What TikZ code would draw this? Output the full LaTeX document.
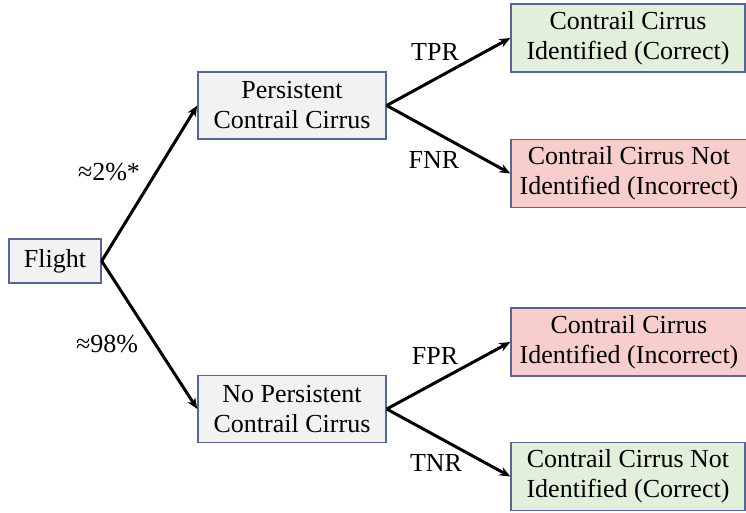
\documentclass[tikz,border=0pt]{standalone}
\usepackage{fontspec}
\setmainfont{Liberation Serif}
\usetikzlibrary{arrows.meta}
\definecolor{bordc}{RGB}{84,104,146}
\definecolor{grayf}{RGB}{242,242,242}
\definecolor{greenf}{RGB}{226,239,218}
\definecolor{redf}{RGB}{248,206,204}
\begin{document}
\begin{tikzpicture}[x=1pt,y=-1pt,
  box/.style={draw=bordc, line width=1.4pt, align=center, inner sep=0pt,
    font=\fontsize{26}{30}\selectfont},
  lbl/.style={font=\fontsize{26}{30}\selectfont, inner sep=0pt},
  arr/.style={line width=3pt, -{Stealth[length=11pt,width=9pt]}}]
\useasboundingbox (0,0) rectangle (746,512);
\node[box, fill=grayf, minimum width=92pt, minimum height=44pt] (flight) at (55,261) {Flight};
\node[box, fill=grayf, minimum width=188pt, minimum height=67pt] (pcc) at (292,105.5) {Persistent\\Contrail Cirrus};
\node[box, fill=grayf, minimum width=188pt, minimum height=67pt] (npcc) at (292,409) {No Persistent\\Contrail Cirrus};
\node[box, fill=greenf, minimum width=234pt, minimum height=68pt] (r1) at (628,38) {Contrail Cirrus\\Identified (Correct)};
\node[box, fill=redf, minimum width=236pt, minimum height=68pt] (r2) at (629,173.5) {Contrail Cirrus Not\\Identified (Incorrect)};
\node[box, fill=redf, minimum width=236pt, minimum height=68pt] (r3) at (629,342) {Contrail Cirrus\\Identified (Incorrect)};
\node[box, fill=greenf, minimum width=234pt, minimum height=68pt] (r4) at (628,476.5) {Contrail Cirrus Not\\Identified (Correct)};
\draw[arr] (flight.east) -- (pcc.west);
\draw[arr] (flight.east) -- (npcc.west);
\draw[arr] (pcc.east) -- (r1.west);
\draw[arr] (pcc.east) -- (r2.west);
\draw[arr] (npcc.east) -- (r3.west);
\draw[arr] (npcc.east) -- (r4.west);
\node[lbl] (l2) at (109,172) {≈2\%*};
\node[lbl] (l98) at (107,344) {≈98\%};
\node[lbl] (tpr) at (435,52) {TPR};
\node[lbl] (fnr) at (434,160) {FNR};
\node[lbl] (fpr) at (435,356) {FPR};
\node[lbl] (tnr) at (436,463) {TNR};
\end{tikzpicture}
\end{document}
